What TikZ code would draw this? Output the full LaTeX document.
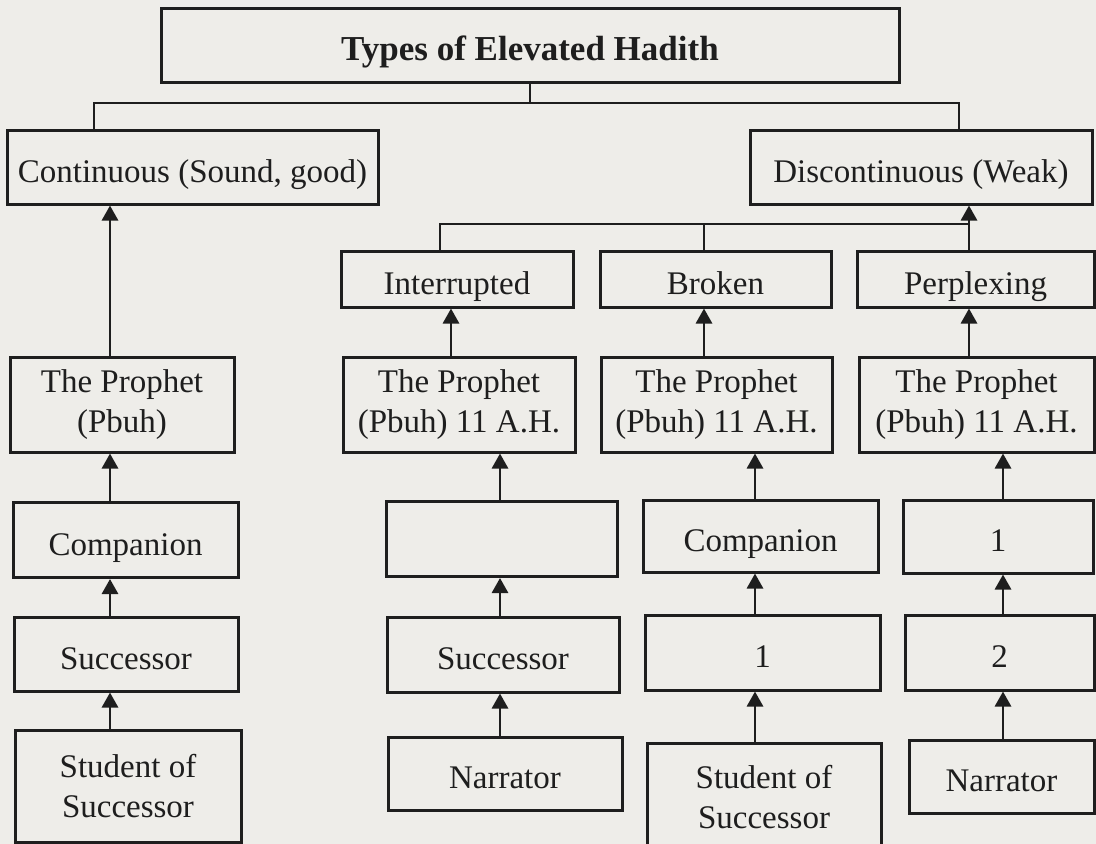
\documentclass[tikz,border=0pt]{standalone}
\usepackage{fontspec}
\setmainfont{Liberation Serif}
\usetikzlibrary{arrows.meta, positioning, calc}

\definecolor{paper}{RGB}{238,237,233}
\definecolor{ink}{RGB}{30,30,30}

\begin{document}
\begin{tikzpicture}[x=1pt, y=-1pt,
  base/.style={rectangle, draw=ink, text=ink, line width=3pt, align=center, inner sep=2pt, font=\fontsize{33}{40}\selectfont},
  box/.style={base, text height=31pt, text depth=1pt},
  pair/.style={base},
  link/.style={draw=ink, line width=2.8pt},
  arr/.style={link, -{Triangle[length=15pt, width=16pt]}}]
\fill[paper] (0,0) rectangle (1096,844);
\useasboundingbox (0,0) rectangle (1096,844);
% top levels
\node[box, minimum width=738pt, minimum height=74pt, font=\bfseries\fontsize{35}{40}\selectfont] (types) at (530,45) {Types of Elevated Hadith};
\node[box, minimum width=371pt, minimum height=74pt] (cont) at (192.5,167) {Continuous (Sound, good)};
\node[box, minimum width=342pt, minimum height=74pt] (disc) at (921,167) {Discontinuous (Weak)};
\node[box, minimum width=232pt, minimum height=56pt] (intr) at (457,279) {Interrupted};
\node[box, minimum width=231pt, minimum height=56pt] (brok) at (715.5,279) {Broken};
\node[box, minimum width=237pt, minimum height=56pt] (perp) at (975.5,279) {Perplexing};
% the chains
\node[pair, minimum width=224pt, minimum height=95pt] (proA) at (122,404.5) {The Prophet\\(Pbuh)};
\node[pair, minimum width=232pt, minimum height=95pt] (proB) at (459,404.5) {The Prophet\\(Pbuh) 11 A.H.};
\node[pair, minimum width=231pt, minimum height=95pt] (proC) at (716.5,404.5) {The Prophet\\(Pbuh) 11 A.H.};
\node[pair, minimum width=235pt, minimum height=95pt] (proD) at (976.5,404.5) {The Prophet\\(Pbuh) 11 A.H.};
\node[box, minimum width=225pt, minimum height=75pt] (compA) at (125.5,540) {Companion};
\node[box, minimum width=231pt, minimum height=75pt] (blankB) at (501.5,539) {};
\node[box, minimum width=235pt, minimum height=72pt] (compC) at (760.5,536) {Companion};
\node[box, minimum width=190pt, minimum height=73pt] (oneD) at (998,536.5) {1};
\node[box, minimum width=224pt, minimum height=74pt] (succA) at (126,654) {Successor};
\node[box, minimum width=232pt, minimum height=75pt] (succB) at (503,654.5) {Successor};
\node[box, minimum width=235pt, minimum height=75pt] (oneC) at (762.5,652.5) {1};
\node[box, minimum width=189pt, minimum height=75pt] (twoD) at (999.5,652.5) {2};
\node[pair, minimum width=226pt, minimum height=112pt] (studA) at (128,786) {Student of\\Successor};
\node[box, minimum width=234pt, minimum height=73pt] (narrB) at (505,773.5) {Narrator};
\node[pair, minimum width=234pt, minimum height=108pt] (studC) at (764,797) {Student of\\Successor};
\node[box, minimum width=185pt, minimum height=73pt] (narrD) at (1001.5,776.5) {Narrator};
% columns of the connectors
\coordinate (topbar) at (0,103);
\coordinate (midbar) at (0,224);
\coordinate (cL) at (94,0);
\coordinate (cR) at (959,0);
\coordinate (dI) at (440,0);
\coordinate (dB) at (704,0);
\coordinate (c1) at (110,0);
\coordinate (c2) at (500,0);
\coordinate (u2) at (451,0);
\coordinate (c3) at (755,0);
\coordinate (u3) at (704,0);
\coordinate (c4) at (1003,0);
\coordinate (u4) at (969,0);
\draw[link] (types.south) -- (types.south |- topbar);
\draw[link] (cont.north -| cL) |- (topbar -| cR) -- (disc.north -| cR);
\draw[link] (intr.north -| dI) |- (midbar -| u4);
\draw[link] (brok.north -| dB) -- (midbar -| dB);
\draw[arr] (perp.north -| u4) -- (disc.south -| u4);
\foreach \a/\b/\c in {studA/succA/c1, succA/compA/c1, compA/proA/c1, proA/cont/c1,
  narrB/succB/c2, succB/blankB/c2, blankB/proB/c2, proB/intr/u2,
  studC/oneC/c3, oneC/compC/c3, compC/proC/c3, proC/brok/u3,
  narrD/twoD/c4, twoD/oneD/c4, oneD/proD/c4, proD/perp/u4}
  \draw[arr] (\a.north -| \c) -- (\b.south -| \c);
\end{tikzpicture}
\end{document}
